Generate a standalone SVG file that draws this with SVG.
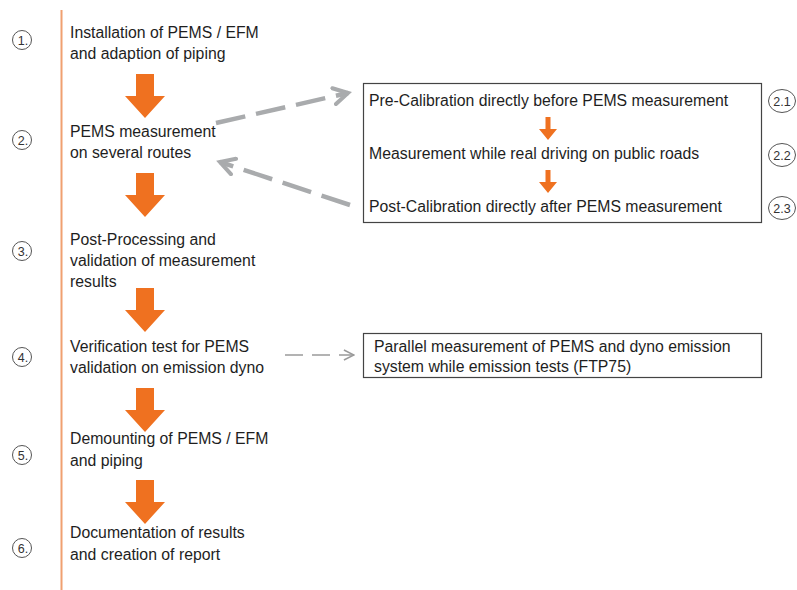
<svg xmlns="http://www.w3.org/2000/svg" width="797" height="590" viewBox="0 0 797 590">
<defs>
<style>
text{font-family:"Liberation Sans",Arial,sans-serif;fill:#1e1e1e;font-size:15.8px}
.num{font-size:12.5px;text-anchor:middle;fill:#333}
.circ{fill:none;stroke:#555;stroke-width:1}
.big{fill:#ef7120}
.box{fill:#fff;stroke:#444;stroke-width:1.2}
.thick{fill:none;stroke:#a9abad;stroke-width:4.5;stroke-dasharray:30 11}
.thin{fill:none;stroke:#9a9a9a;stroke-width:1.4;stroke-dasharray:18 9}
</style>
<marker id="head" viewBox="0 0 10 10" refX="8" refY="5" markerWidth="4.5" markerHeight="4.5" orient="auto" markerUnits="strokeWidth">
<path d="M1,1 L8,5 L1,9" fill="none" stroke="#a9abad" stroke-width="2" stroke-linecap="round"/>
</marker>
<marker id="headthin" viewBox="0 0 10 10" refX="9" refY="5" markerWidth="9" markerHeight="9" orient="auto" markerUnits="strokeWidth">
<path d="M1,1 L9,5 L1,9" fill="none" stroke="#9a9a9a" stroke-width="1.2"/>
</marker>
<path id="bigarrow" d="M-9,0 H9 V22 H20 L0,44 L-20,22 H-9 Z"/>
<path id="smallarrow" d="M-2.5,0 H2.5 V12 H9 L0,23 L-9,12 H-2.5 Z"/>
</defs>
<rect width="797" height="590" fill="#fff"/>
<line x1="61.5" y1="10" x2="61.5" y2="590" stroke="#f0a070" stroke-width="2"/>

<g id="step1">
<ellipse class="circ" cx="22" cy="40" rx="9.5" ry="9.5"/><text class="num" x="23" y="44.5">1.</text>
<text x="70" y="38">Installation of PEMS / EFM</text>
<text x="70" y="59">and adaption of piping</text>
</g>
<g id="step2">
<ellipse class="circ" cx="22" cy="140" rx="9.5" ry="9.5"/><text class="num" x="23" y="144.5">2.</text>
<text x="70" y="137">PEMS measurement</text>
<text x="70" y="158">on several routes</text>
</g>
<g id="step3">
<ellipse class="circ" cx="22" cy="251" rx="9.5" ry="9.5"/><text class="num" x="23" y="255.5">3.</text>
<text x="70" y="245">Post-Processing and</text>
<text x="70" y="266">validation of measurement</text>
<text x="70" y="287">results</text>
</g>
<g id="step4">
<ellipse class="circ" cx="22" cy="357" rx="9.5" ry="9.5"/><text class="num" x="23" y="361.5">4.</text>
<text x="70" y="352">Verification test for PEMS</text>
<text x="70" y="373">validation on emission dyno</text>
</g>
<g id="step5">
<ellipse class="circ" cx="22" cy="455" rx="9.5" ry="9.5"/><text class="num" x="23" y="459.5">5.</text>
<text x="70" y="444">Demounting of PEMS / EFM</text>
<text x="70" y="466">and piping</text>
</g>
<g id="step6">
<ellipse class="circ" cx="22" cy="548" rx="9.5" ry="9.5"/><text class="num" x="23" y="552.5">6.</text>
<text x="70" y="538">Documentation of results</text>
<text x="70" y="560">and creation of report</text>
</g>

<g id="box-routes">
<rect class="box" x="363.5" y="83.5" width="398" height="139"/>
<text x="369" y="106">Pre-Calibration directly before PEMS measurement</text>
<text x="369" y="159">Measurement while real driving on public roads</text>
<text x="369" y="212">Post-Calibration directly after PEMS measurement</text>
<ellipse class="circ" cx="782" cy="101" rx="13.5" ry="11.5"/><text class="num" x="782" y="105.5">2.1</text>
<ellipse class="circ" cx="782" cy="155" rx="13.5" ry="11.5"/><text class="num" x="782" y="159.5">2.2</text>
<ellipse class="circ" cx="782" cy="208" rx="13.5" ry="11.5"/><text class="num" x="782" y="212.5">2.3</text>
</g>
<g id="box-dyno">
<rect class="box" x="363.5" y="333.5" width="398" height="44"/>
<text x="374" y="352">Parallel measurement of PEMS and dyno emission</text>
<text x="374" y="372">system while emission tests (FTP75)</text>
</g>

<g id="connectors">
<use href="#bigarrow" x="145" y="74" class="big"/>
<use href="#bigarrow" x="145" y="173" class="big"/>
<use href="#bigarrow" x="145" y="288" class="big"/>
<use href="#bigarrow" x="145" y="388" class="big"/>
<use href="#bigarrow" x="145" y="480" class="big"/>
<use href="#smallarrow" x="548" y="117" class="big"/>
<use href="#smallarrow" x="548" y="170" class="big"/>
<path class="thick" d="M216,123 L348,93" marker-end="url(#head)"/>
<path class="thick" d="M350,205 L220,162" marker-end="url(#head)"/>
<path class="thin" d="M285,355 L354,355" marker-end="url(#headthin)"/>
</g>
</svg>
